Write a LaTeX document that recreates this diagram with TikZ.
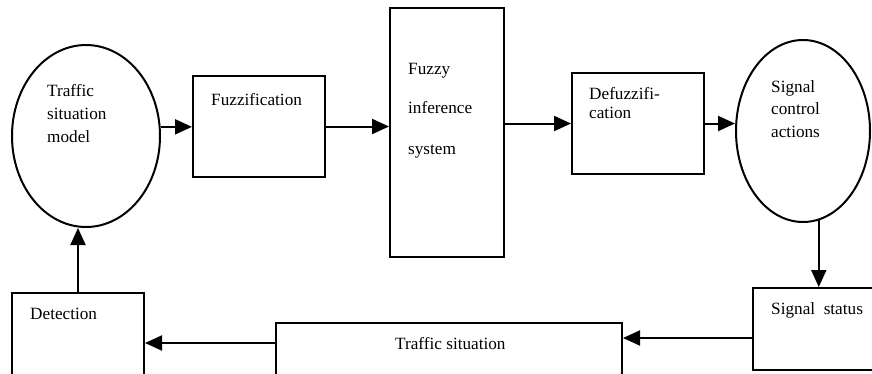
\documentclass[tikz,border=0pt]{standalone}
\usepackage{fontspec}
\setmainfont{Liberation Serif}
\usetikzlibrary{arrows.meta,shapes.geometric}

\begin{document}
\begin{tikzpicture}[x=1pt,y=-1pt,
  blk/.style={draw, line width=2pt, rectangle, inner sep=0pt},
  oval/.style={draw, line width=2pt, ellipse, inner sep=0pt},
  lbl/.style={anchor=base west, inner sep=0pt, font=\fontsize{17.2}{21}\selectfont},
  flow/.style={line width=2pt, -{Triangle[length=17pt,width=15pt]}}]
\useasboundingbox (0,0) rectangle (872,373);
\clip (0,0) rectangle (872,373);

% upper chain
\node[oval, minimum width=148pt, minimum height=182pt] (tsm) at (86,136) {};
\node[blk, minimum width=132pt, minimum height=101pt] (fuzz) at (259,126.5) {};
\node[blk, minimum width=114pt, minimum height=249pt] (fis) at (447,132.5) {};
\node[blk, minimum width=132pt, minimum height=101pt] (defuzz) at (638,123.5) {};
\node[oval, minimum width=134pt, minimum height=182pt] (sca) at (803,131) {};

% lower chain (runs off the bottom edge)
\node[blk, minimum width=147pt, minimum height=82pt] (sigstat) at (826.5,329) {};
\node[blk, minimum width=346pt, minimum height=77pt] (trafsit) at (449,361.5) {};
\node[blk, minimum width=132pt, minimum height=107pt] (detect) at (78,346.5) {};

% labels
\node[lbl] (tsmA) at (47,96.5) {Traffic};
\node[lbl] (tsmB) at (47,119) {situation};
\node[lbl] (tsmC) at (47,142) {model};
\node[lbl] (fuzzT) at (211,105.5) {Fuzzification};
\node[lbl] (fisA) at (408,74) {Fuzzy};
\node[lbl] (fisB) at (408,113.5) {inference};
\node[lbl] (fisC) at (408,154) {system};
\node[lbl] (defA) at (589,99) {Defuzzifi-};
\node[lbl] (defB) at (589,118) {cation};
\node[lbl] (scaA) at (771,92) {Signal};
\node[lbl] (scaB) at (771,114.5) {control};
\node[lbl] (scaC) at (771,137) {actions};
\node[lbl] (sigT) at (771,314) {Signal\ \ status};
\node[lbl] (trafT) at (395,349) {Traffic situation};
\node[lbl] (detT) at (30,319) {Detection};

% ports on the lower boxes
\coordinate (sigOut) at ([yshift=-9pt]sigstat.west);
\coordinate (trafOut) at ([yshift=18.5pt]trafsit.west);

% connectors
\draw[flow] (tsm.7) -- (fuzz.west |- tsm.7);
\draw[flow] (fuzz.east) -- (fis.west |- fuzz.east);
\draw[flow] (fis.east |- defuzz.west) -- (defuzz.west);
\draw[flow] (defuzz.east) -- (sca.west |- defuzz.east);
\draw[flow] (sca.-80) -- (sca.-80 |- sigstat.north);
\draw[flow] (sigOut) -- (trafsit.east |- sigOut);
\draw[flow] (trafOut) -- (detect.east |- trafOut);
\draw[flow] (detect.north) -- (detect.north |- tsm.south);
\end{tikzpicture}
\end{document}
